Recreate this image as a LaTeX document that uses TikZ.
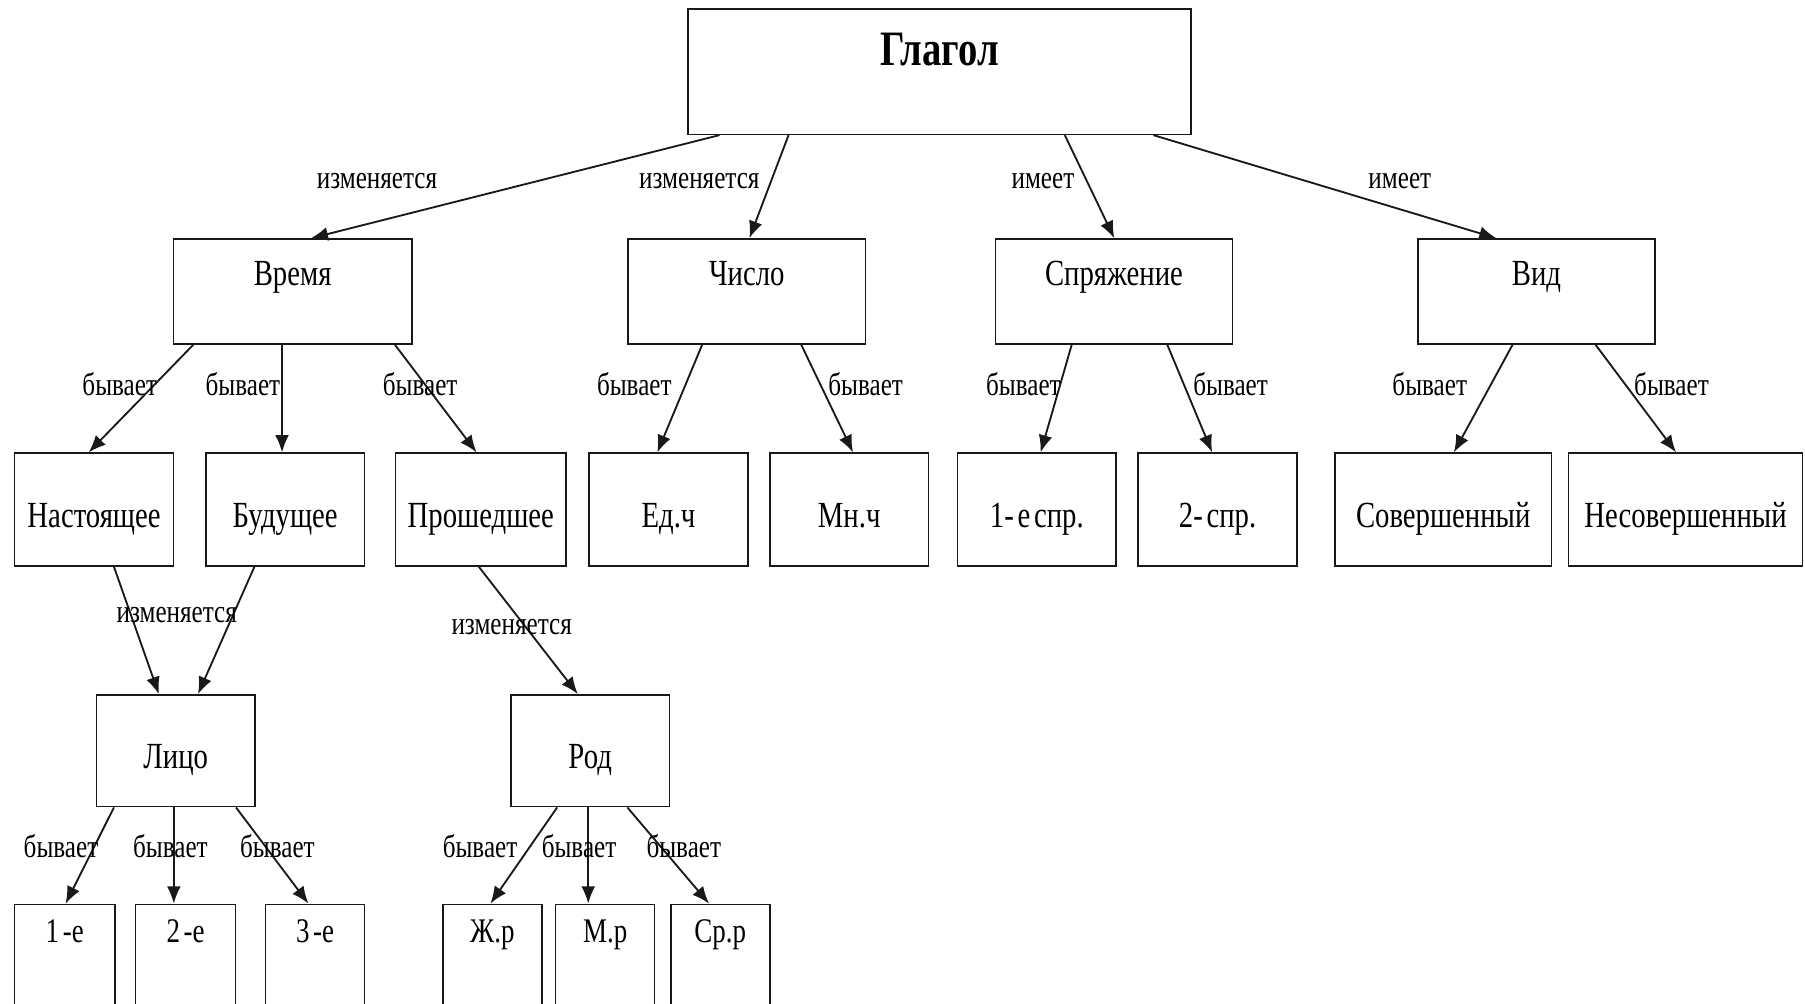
\documentclass[tikz,border=0pt]{standalone}
\usepackage{fontspec}
\setmainfont{Liberation Serif}[FakeStretch=0.78]
\usetikzlibrary{calc,arrows.meta}
\newcommand{\nsp}{\hspace{1.6pt}}
\tikzset{
  box/.style={draw=black!90, line width=0.7pt, rectangle, inner sep=0pt, align=center, anchor=north west, font=\fontsize{16}{19}\selectfont},
  smallbox/.style={box, font=\fontsize{15}{18}\selectfont},
  lbl/.style={inner sep=0pt, anchor=base, font=\fontsize{14}{17}\selectfont},
  arr/.style={draw=black!90, line width=0.8pt, -{Latex[length=7.5pt,width=6pt]}}
}
\begin{document}
\begin{tikzpicture}[x=0.5pt,y=-0.5pt]
\clip (0,0) rectangle (1568,872);
\fill[white] (0,0) rectangle (1568,872);
% row 1
\node[box, font=\bfseries\fontsize{21.5}{25}\selectfont, text width=218.5pt, text height=24.75pt, text depth=29.75pt] (glagol) at (597,7) {Глагол};
% row 2
\node[box, text width=103.5pt, text height=20pt, text depth=25.5pt] (vremya) at (150,207) {Время};
\node[box, text width=103pt, text height=20pt, text depth=25.5pt] (chislo) at (545,207) {Число};
\node[box, text width=103pt, text height=20pt, text depth=25.5pt] (spr) at (864,207) {Спряжение};
\node[box, text width=103pt, text height=20pt, text depth=25.5pt] (vid) at (1231,207) {Вид};
% row 3
\node[box, text width=69pt, text height=32.25pt, text depth=16.75pt] (nast) at (12,393) {Настоящее};
\node[box, text width=69pt, text height=32.25pt, text depth=16.75pt] (bud) at (178,393) {Будущее};
\node[box, text width=74pt, text height=32.25pt, text depth=16.75pt] (prosh) at (343,393) {Прошедшее};
\node[box, text width=69pt, text height=32.25pt, text depth=16.75pt] (ed) at (511,393) {Ед.ч};
\node[box, text width=69pt, text height=32.25pt, text depth=16.75pt] (mn) at (668,393) {Мн.ч};
\node[box, text width=69pt, text height=32.25pt, text depth=16.75pt] (spra) at (831,393) {1-\nsp е\nsp спр.};
\node[box, text width=69pt, text height=32.25pt, text depth=16.75pt] (sprb) at (988,393) {2-\nsp спр.};
\node[box, text width=94pt, text height=32.25pt, text depth=16.75pt] (sov) at (1159,393) {Совершенный};
\node[box, text width=101.5pt, text height=32.25pt, text depth=16.75pt] (nesov) at (1362,393) {Несовершенный};
% row 4
\node[box, text width=69pt, text height=32pt, text depth=16.5pt] (lico) at (83,603) {Лицо};
\node[box, text width=69pt, text height=32pt, text depth=16.5pt] (rod) at (443,603) {Род};
% row 5
\node[smallbox, text width=43.5pt, text height=16.5pt, text depth=45pt] (pa) at (12,785) {1\nsp -е};
\node[smallbox, text width=43.5pt, text height=16.5pt, text depth=45pt] (pb) at (117,785) {2\nsp -е};
\node[smallbox, text width=43pt, text height=16.5pt, text depth=45pt] (pc) at (230,785) {3\nsp -е};
\node[smallbox, text width=43pt, text height=16.5pt, text depth=45pt] (zh) at (384,785) {Ж.р};
\node[smallbox, text width=43pt, text height=16.5pt, text depth=45pt] (mr) at (482,785) {М.р};
\node[smallbox, text width=43pt, text height=16.5pt, text depth=45pt] (sr) at (582,785) {Ср.р};
% edges from Глагол
\draw[arr] ($(glagol.south west)+(28,0)$) -- ($(vremya.north west)+(120,0)$);
\draw[arr] ($(glagol.south west)+(88,0)$) -- ($(chislo.north west)+(106,0)$);
\draw[arr] ($(glagol.south west)+(328,0)$) -- ($(spr.north west)+(104,0)$);
\draw[arr] ($(glagol.south west)+(405,0)$) -- ($(vid.north west)+(69,0)$);
% row 2 -> row 3
\draw[arr] ($(vremya.south west)+(18,0)$) -- ($(nast.north west)+(65,0)$);
\draw[arr] ($(vremya.south west)+(95,0)$) -- ($(bud.north west)+(67,0)$);
\draw[arr] ($(vremya.south west)+(193,0)$) -- ($(prosh.north west)+(71,0)$);
\draw[arr] ($(chislo.south west)+(65,0)$) -- ($(ed.north west)+(60,0)$);
\draw[arr] ($(chislo.south west)+(151,0)$) -- ($(mn.north west)+(73,0)$);
\draw[arr] ($(spr.south west)+(67,0)$) -- ($(spra.north west)+(73,0)$);
\draw[arr] ($(spr.south west)+(150,0)$) -- ($(sprb.north west)+(65,0)$);
\draw[arr] ($(vid.south west)+(83,0)$) -- ($(sov.north west)+(104,0)$);
\draw[arr] ($(vid.south west)+(155,0)$) -- ($(nesov.north west)+(94,0)$);
% row 3 -> row 4
\draw[arr] ($(nast.south west)+(87,0)$) -- ($(lico.north west)+(55,0)$);
\draw[arr] ($(bud.south west)+(43,0)$) -- ($(lico.north west)+(89,0)$);
\draw[arr] ($(prosh.south west)+(73,0)$) -- ($(rod.north west)+(59,0)$);
% row 4 -> row 5
\draw[arr] ($(lico.south west)+(16,0)$) -- ($(pa.north west)+(45,0)$);
\draw[arr] ($(lico.south west)+(68,0)$) -- ($(pb.north west)+(34,0)$);
\draw[arr] ($(lico.south west)+(122,0)$) -- ($(pc.north west)+(38,0)$);
\draw[arr] ($(rod.south west)+(41,0)$) -- ($(zh.north west)+(42,0)$);
\draw[arr] ($(rod.south west)+(68,0)$) -- ($(mr.north west)+(29,0)$);
\draw[arr] ($(rod.south west)+(102,0)$) -- ($(sr.north west)+(34,0)$);
% labels
\node[lbl] (l1) at (327.5,164) {изменяется};
\node[lbl] (l2) at (607.5,164) {изменяется};
\node[lbl] (l3) at (906,164) {имеет};
\node[lbl] (l4) at (1216,164) {имеет};
\node[lbl] (l5) at (104,344) {бывает};
\node[lbl] (l6) at (211,344) {бывает};
\node[lbl] (l7) at (365,344) {бывает};
\node[lbl] (l8) at (551,344) {бывает};
\node[lbl] (l9) at (752,344) {бывает};
\node[lbl] (l10) at (889,344) {бывает};
\node[lbl] (l11) at (1069,344) {бывает};
\node[lbl] (l12) at (1242,344) {бывает};
\node[lbl] (l13) at (1452,344) {бывает};
\node[lbl] (l14) at (153.5,541) {изменяется};
\node[lbl] (l15) at (444.5,551) {изменяется};
\node[lbl] (l16) at (53,745) {бывает};
\node[lbl] (l17) at (148,745) {бывает};
\node[lbl] (l18) at (241,745) {бывает};
\node[lbl] (l19) at (417,745) {бывает};
\node[lbl] (l20) at (503,745) {бывает};
\node[lbl] (l21) at (594,745) {бывает};
\end{tikzpicture}
\end{document}
